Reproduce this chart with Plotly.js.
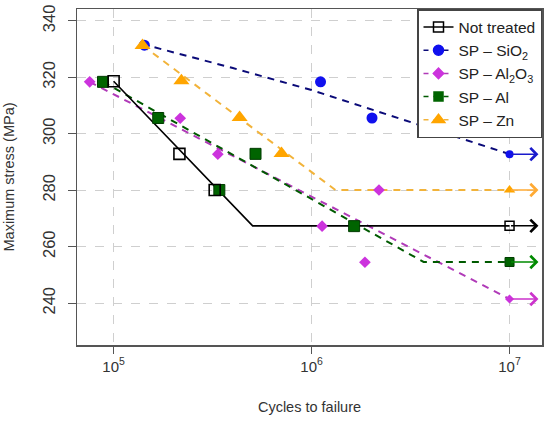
<!DOCTYPE html>
<html><head><meta charset="utf-8">
<script src="https://cdn.plot.ly/plotly-3.0.1.min.js"></script>
<style>html,body{margin:0;padding:0;background:#fff}#chart{width:550px;height:428px}</style>
</head><body><div id="chart"></div>
<script>
// ---- data ----
var seriesNames = ["Not treated", "SP \u2013 SiO<sub>2</sub>", "SP \u2013 Al<sub>2</sub>O<sub>3</sub>", "SP \u2013 Al", "SP \u2013 Zn"];
var xTickVals = [1e5, 1e6, 1e7];
var xTickText = ["10<sup>5</sup>", "10<sup>6</sup>", "10<sup>7</sup>"];
var yTickVals = [240, 260, 280, 300, 320, 340];

var ntX = [1.0e5, 2.15e5, 3.24e5];
var ntY = [318.6, 292.9, 280.1];
var ntRunX = [1e7], ntRunY = [267.4];
var ntFitX = [1.0e5, 5.04e5, 1e7];
var ntFitY = [318.6, 267.4, 267.4];

var siX = [1.43e5, 1.11e6, 2.02e6];
var siY = [331.4, 318.4, 305.6];
var siRunX = [1e7], siRunY = [292.8];
var siFitX = [1.39e5, 4.0e5, 1.0e6, 1e7];
var siFitY = [331.8, 323.3, 315.5, 292.8];

var aoX = [7.57e4, 2.17e5, 3.36e5, 1.13e6, 1.86e6, 2.19e6];
var aoY = [318.4, 305.5, 292.8, 267.3, 254.5, 280.1];
var aoRunX = [1e7], aoRunY = [241.5];
var aoFitX = [7.57e4, 1e7];
var aoFitY = [318.4, 241.5];

var alX = [8.84e4, 1.68e5, 3.42e5, 5.21e5, 1.64e6];
var alY = [318.4, 305.6, 280.1, 292.9, 267.3];
var alRunX = [1e7], alRunY = [254.6];
var alFitX = [8.84e4, 3.68e6, 1e7];
var alFitY = [318.4, 254.6, 254.6];

var znX = [1.40e5, 2.20e5, 4.33e5, 7.05e5];
var znY = [331.3, 318.8, 305.8, 293.0];
var znRunX = [1e7], znRunY = [280.1];
var znFitX = [1.40e5, 1.32e6, 1e7];
var znFitY = [331.3, 280.1, 280.1];

var arrowEndX = 1.4e7;

// ---- styles ----
var C = {
  nt:  {line:'#000000', mk:'#000000', arrow:'#000000'},
  si:  {line:'#0a0a78', mk:'#1010ee', arrow:'#1a1acc'},
  ao:  {line:'#b03ab8', mk:'#cc33dd', arrow:'#cc33cc'},
  al:  {line:'#005a00', mk:'#006400', arrow:'#008a00'},
  zn:  {line:'#f2b33a', mk:'#ffa500', arrow:'#ffaa33'}
};
var DASH = '7px,6px';

var traces = [];
function fit(x, y, col, dash, w) {
  traces.push({x:x, y:y, mode:'lines', showlegend:false, hoverinfo:'skip',
    line:{color:col, width:w, dash:dash}});
}
function pts(x, y, sym, col, size, lw, lcol) {
  traces.push({x:x, y:y, mode:'markers', showlegend:false,
    marker:{symbol:sym, color:col, size:size, line:{width:lw, color:lcol||col}}});
}
function leg(name, sym, col, size, lcol, dash, lw) {
  traces.push({x:[null], y:[null], mode:'lines+markers', name:name,
    line:{color:lcol, width:lw, dash:dash},
    marker:{symbol:sym, color:col, size:size, line:{width:1.5, color:col}}});
}

fit(aoFitX, aoFitY, C.ao.line, DASH, 2);
fit(alFitX, alFitY, C.al.line, DASH, 2);
fit(siFitX, siFitY, C.si.line, DASH, 2);
fit(znFitX, znFitY, C.zn.line, DASH, 2);
fit(ntFitX, ntFitY, C.nt.line, 'solid', 1.6);

pts(siX, siY, 'circle', C.si.mk, 11, 0);
pts(siRunX, siRunY, 'circle', C.si.mk, 8, 0);
pts(aoX, aoY, 'diamond', C.ao.mk, 9, 0);
pts(aoRunX, aoRunY, 'diamond', C.ao.mk, 7, 0);
pts(alX, alY, 'square', C.al.mk, 11, 1, '#003c00');
pts(alRunX, alRunY, 'square', C.al.mk, 9, 1, '#003c00');
pts(znX, znY, 'triangle-up', C.zn.mk, 14, 0);
pts(znRunX, znRunY, 'triangle-up', C.zn.mk, 10, 0);
pts(ntX, ntY, 'square-open', C.nt.mk, 11, 1.6);
pts(ntRunX, ntRunY, 'square-open', C.nt.mk, 9, 1.5);

leg(seriesNames[0], 'square-open', '#000000', 10, '#000000', 'solid', 1.5);
leg(seriesNames[1], 'circle', C.si.mk, 10, C.si.line, '5px,5px', 1.5);
leg(seriesNames[2], 'diamond', C.ao.mk, 8, C.ao.line, '5px,5px', 1.5);
leg(seriesNames[3], 'square', C.al.mk, 9, C.al.line, '5px,5px', 1.5);
leg(seriesNames[4], 'triangle-up', C.zn.mk, 11, C.zn.line, '5px,5px', 1.5);

var runouts = [[ntRunX, ntRunY, C.nt.arrow], [siRunX, siRunY, C.si.arrow],
  [aoRunX, aoRunY, C.ao.arrow], [alRunX, alRunY, C.al.arrow], [znRunX, znRunY, C.zn.arrow]];
var annotations = runouts.map(function (r) {
  return {x:Math.log10(arrowEndX), y:r[1][0], ax:Math.log10(r[0][0]), ay:r[1][0],
    xref:'x', yref:'y', axref:'x', ayref:'y', text:'', showarrow:true,
    arrowhead:4, arrowsize:1.6, arrowwidth:1.5, arrowcolor:r[2], standoff:0, startstandoff:0};
});

var font = {family:'"Liberation Sans", Arial, sans-serif', size:14, color:'#333333'};
var layout = {
  width:550, height:428,
  margin:{l:77, r:8, t:9, b:83},
  paper_bgcolor:'#ffffff', plot_bgcolor:'#ffffff',
  font:font,
  showlegend:true,
  xaxis:{type:'log', range:[4.815, 7.164], tickvals:xTickVals, ticktext:xTickText,
    showgrid:true, gridcolor:'#cfcfcf', griddash:'dash', gridwidth:1,
    showline:true, linecolor:'#555555', linewidth:1.5, mirror:true,
    ticks:'outside', ticklen:7, tickwidth:1.2, tickcolor:'#555555',
    zeroline:false, tickfont:{size:15, color:'#333333'},
    title:{text:'Cycles to failure', font:{size:14.5, color:'#333333'}, standoff:28}},
  yaxis:{range:[225.2, 344.2], tickvals:yTickVals, tickangle:-90,
    showgrid:true, gridcolor:'#cfcfcf', griddash:'dash', gridwidth:1,
    showline:true, linecolor:'#555555', linewidth:1.5, mirror:true,
    ticks:'outside', ticklen:8, tickwidth:1.2, tickcolor:'#555555',
    zeroline:false, tickfont:{size:16.5, color:'#333333'}, ticklabelstandoff:6,
    title:{text:'Maximum stress (MPa)', font:{size:14.5, color:'#333333'}, standoff:22}},
  legend:{x:1, xanchor:'right', y:1, yanchor:'top', bgcolor:'#ffffff',
    bordercolor:'#444444', borderwidth:1.5, font:{size:15.5, color:'#222222'},
    tracegroupgap:0, itemwidth:30},
  annotations:annotations
};
Plotly.newPlot('chart', traces, layout, {displayModeBar:false, staticPlot:true});
</script></body></html>
